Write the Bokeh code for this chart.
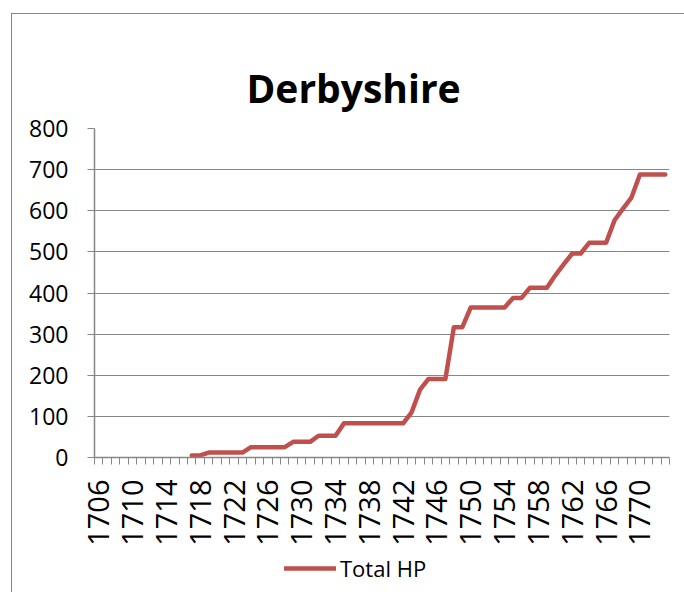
import numpy as np
from bokeh.plotting import figure
from bokeh.layouts import column
from bokeh.models import FixedTicker, Range1d
from bokeh.embed import file_html
from bokeh.resources import INLINE

# ---- data ----
years = [1706, 1707, 1708, 1709, 1710, 1711, 1712, 1713, 1714, 1715, 1716,
         1717, 1718, 1719, 1720, 1721, 1722, 1723, 1724, 1725, 1726, 1727,
         1728, 1729, 1730, 1731, 1732, 1733, 1734, 1735, 1736, 1737, 1738,
         1739, 1740, 1741, 1742, 1743, 1744, 1745, 1746, 1747, 1748, 1749,
         1750, 1751, 1752, 1753, 1754, 1755, 1756, 1757, 1758, 1759, 1760,
         1761, 1762, 1763, 1764, 1765, 1766, 1767, 1768, 1769, 1770, 1771,
         1772, 1773]
nan = float("nan")
total_hp = [nan, nan, nan, nan, nan, nan, nan, nan, nan, nan, nan,
            5, 5, 12, 12, 12, 12, 12, 25, 25, 25, 25,
            25, 38, 38, 38, 53, 53, 53, 83, 83, 83, 83,
            83, 83, 83, 83, 110, 165, 191, 191, 191, 317, 317,
            365, 365, 365, 365, 365, 388, 388, 413, 413, 413, 443,
            470, 496, 496, 522, 522, 522, 577, 605, 632, 688, 688,
            688, 688]
x_tick_years = [1706, 1710, 1714, 1718, 1722, 1726, 1730, 1734, 1738,
                1742, 1746, 1750, 1754, 1758, 1762, 1766, 1770]
y_ticks = [0, 100, 200, 300, 400, 500, 600, 700, 800]
series_name = "Total HP"
title_text = "Derbyshire"

GRAY = "#868686"
RED = "#C0504D"
FONT = "Open Sans"

xs = np.array(years, dtype=float)
ys = np.array(total_hp, dtype=float)

p = figure(width=672, height=532, frame_width=574, frame_height=328,
           output_backend="svg", toolbar_location=None, title=title_text,
           min_border_left=82, min_border_right=16, min_border_top=114,
           min_border_bottom=90,
           x_range=Range1d(years[0] - 0.5, years[-1] + 0.5),
           y_range=Range1d(y_ticks[0], y_ticks[-1]))
p.styles = {"border-left": "1px solid " + GRAY, "border-top": "1px solid " + GRAY}
p.outline_line_color = None
p.background_fill_color = "white"
p.border_fill_color = "white"

# title
p.title.align = "left"
p.title.vertical_align = "top"
p.title.offset = 152
p.title.standoff = 25
p.title.text_font = FONT
p.title.text_font_style = "bold"
p.title.text_font_size = "39px"
p.title.text_color = "black"

p.line(xs, ys, line_color=RED, line_width=4.5, line_join="round", line_cap="round")

# x axis
xa = p.xaxis[0]
boundaries = [y - 0.5 for y in years] + [years[-1] + 0.5]
xa.ticker = FixedTicker(ticks=x_tick_years, minor_ticks=boundaries)
xa.major_label_overrides = {y: str(y) for y in x_tick_years}
xa.major_label_orientation = np.pi / 2
xa.major_tick_line_color = None
xa.major_tick_out = 0
xa.major_tick_in = 0
xa.minor_tick_out = 7
xa.minor_tick_in = 0
xa.minor_tick_line_color = GRAY
xa.minor_tick_line_width = 1
xa.axis_line_color = GRAY
xa.axis_line_width = 1.5
xa.major_label_standoff = 15
xa.major_label_text_font = FONT
xa.major_label_text_font_size = "29px"
xa.major_label_text_color = "black"

# y axis
ya = p.yaxis[0]
ya.ticker = FixedTicker(ticks=y_ticks)
ya.major_label_overrides = {v: str(v) for v in y_ticks}
ya.minor_tick_line_color = None
ya.major_tick_out = 7
ya.major_tick_in = 0
ya.major_tick_line_color = GRAY
ya.axis_line_color = GRAY
ya.axis_line_width = 1.5
ya.major_label_standoff = 19
ya.major_label_text_font = FONT
ya.major_label_text_font_size = "23px"
ya.major_label_text_color = "black"

p.xgrid.grid_line_color = None
p.ygrid.ticker = FixedTicker(ticks=y_ticks)
p.ygrid.grid_line_color = GRAY
p.ygrid.grid_line_width = 1.2

# legend strip below the chart (its own frame so nothing is clipped)
p2 = figure(width=672, height=46, output_backend="svg", toolbar_location=None,
            x_axis_type=None, y_axis_type=None, min_border=0,
            x_range=Range1d(0, 1), y_range=Range1d(0, 1))
p2.styles = {"border-left": "1px solid " + GRAY}
p2.outline_line_color = None
p2.background_fill_color = "white"
p2.border_fill_color = "white"
p2.line(xs, ys, line_color=RED, line_width=4.5, line_join="round",
        line_cap="round", legend_label=series_name)
lg = p2.legend[0]
lg.location = (190, 10)
lg.orientation = "horizontal"
lg.border_line_color = None
lg.background_fill_alpha = 0
lg.padding = 0
lg.margin = 0
lg.glyph_width = 52
lg.glyph_height = 24
lg.label_standoff = 4
lg.label_text_font = FONT
lg.label_text_font_size = "22px"
lg.label_text_color = "black"

layout = column(p, p2, margin=(13, 0, 0, 11), spacing=0)

open("out.html", "w").write(file_html(layout, INLINE))
